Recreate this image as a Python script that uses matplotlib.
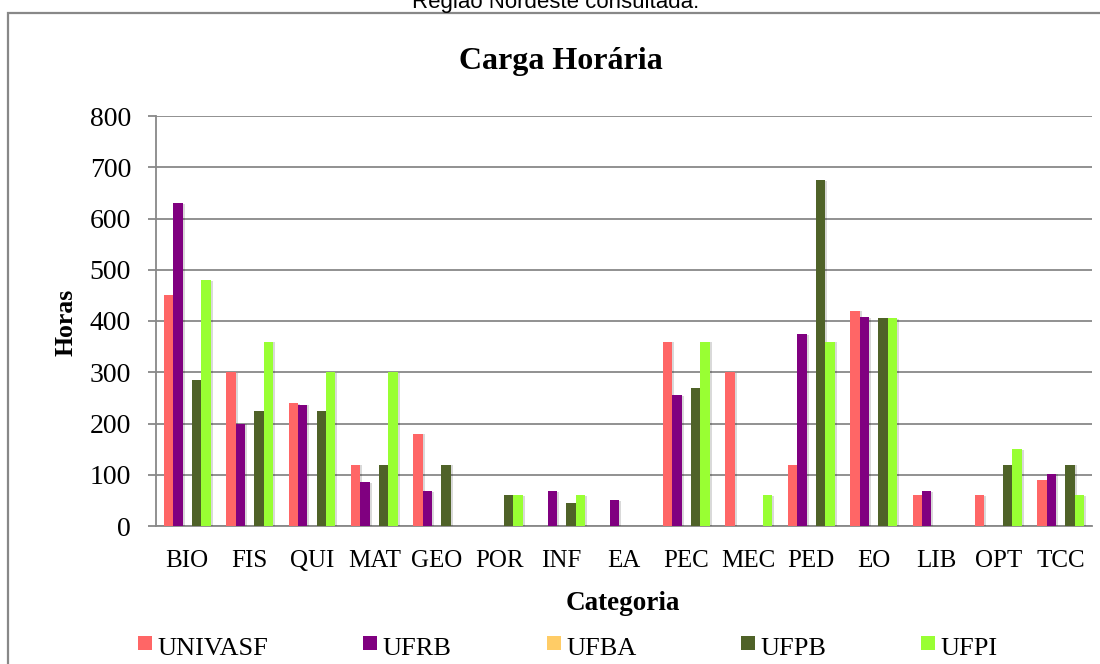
import matplotlib
matplotlib.use("Agg")
import matplotlib.pyplot as plt
import matplotlib.patheffects as pe
from matplotlib.patches import Rectangle
import numpy as np

categories = ["BIO", "FIS", "QUI", "MAT", "GEO", "POR", "INF", "EA",
              "PEC", "MEC", "PED", "EO", "LIB", "OPT", "TCC"]
series_names = ["UNIVASF", "UFRB", "UFBA", "UFPB", "UFPI"]
univasf = [450, 300, 240, 120, 180, 0, 0, 0, 360, 300, 120, 420, 60, 60, 90]
ufrb    = [630, 200, 237, 85, 68, 0, 68, 50, 255, 0, 375, 408, 68, 0, 102]
ufba    = [0, 0, 0, 0, 0, 0, 0, 0, 0, 0, 0, 0, 0, 0, 0]
ufpb    = [285, 225, 225, 120, 120, 60, 45, 0, 270, 0, 675, 405, 0, 120, 120]
ufpi    = [480, 360, 300, 300, 0, 60, 60, 0, 360, 60, 360, 405, 0, 150, 60]
series_values = [univasf, ufrb, ufba, ufpb, ufpi]
colors = ["#FF6666", "#800080", "#FFCC66", "#4F6228", "#99FF33"]
yticks = [0, 100, 200, 300, 400, 500, 600, 700, 800]

W, H = 1100, 664
fig = plt.figure(figsize=(W / 100, H / 100), dpi=100)
serif = ["Liberation Serif", "DejaVu Serif"]

# outer frame
fig.add_artist(Rectangle((8 / W, -0.1), 1.2, (H - 13) / H + 0.1,
                         transform=fig.transFigure, fill=False,
                         edgecolor="#888888", linewidth=1.6))
fig.text(556 / W, 1 - 8 / H, "Região Nordeste consultada.", ha="center",
         va="baseline", fontsize=16, family=["Liberation Sans", "DejaVu Sans"])

ax = fig.add_axes([156 / W, 1 - 526 / H, (1092 - 156) / W, (526 - 116) / H])
x = np.arange(len(categories))
bw = 0.15
for i, (name, vals, c) in enumerate(zip(series_names, series_values, colors)):
    bars = ax.bar(x + (i - 2) * bw, vals, width=bw, color=c, label=name,
                  zorder=3, linewidth=0)
    for b in bars:
        b.set_path_effects([pe.SimplePatchShadow(offset=(1.5, -0.5),
                                                 shadow_rgbFace="#000000",
                                                 alpha=0.15), pe.Normal()])

ax.set_xlim(-0.5, len(categories) - 0.5)
ax.set_ylim(0, 800)
ax.set_yticks(yticks)
ax.set_xticks(x)
ax.set_xticklabels(categories, family=serif, fontsize=18)
ax.set_yticklabels([str(v) for v in yticks], family=serif, fontsize=20)
ax.yaxis.grid(True, color="#888888", linewidth=1.3, zorder=0)
ax.set_axisbelow(True)
for s in ["top", "right"]:
    ax.spines[s].set_visible(False)
ax.spines["left"].set_color("#888888")
ax.spines["left"].set_linewidth(1.3)
ax.spines["bottom"].set_color("#888888")
ax.spines["bottom"].set_linewidth(1.3)
ax.tick_params(axis="y", length=6, width=1.3, color="#888888", pad=12)
ax.tick_params(axis="x", length=0, pad=17)

fig.text(561 / W, 1 - 61 / H, "Carga Horária", ha="center", va="center",
         fontsize=23, fontweight="bold", family=serif)
fig.text(623 / W, 1 - 604 / H, "Categoria", ha="center", va="center",
         fontsize=19.5, fontweight="bold", family=serif)
fig.text(66 / W, 1 - 322 / H, "Horas", ha="center", va="center",
         rotation=90, fontsize=18.5, fontweight="bold", family=serif)

# legend
sq_x = [138, 363, 547, 741, 921]
for sx, name, c in zip(sq_x, series_names, colors):
    fig.add_artist(Rectangle((sx / W, 1 - 650 / H), 14 / W, 14 / H,
                             transform=fig.transFigure, facecolor=c,
                             edgecolor="none"))
    fig.text((sx + 19) / W, 1 - 655 / H, name, ha="left", va="baseline",
             fontsize=19, family=serif)

fig.savefig("out.png", dpi=100)
